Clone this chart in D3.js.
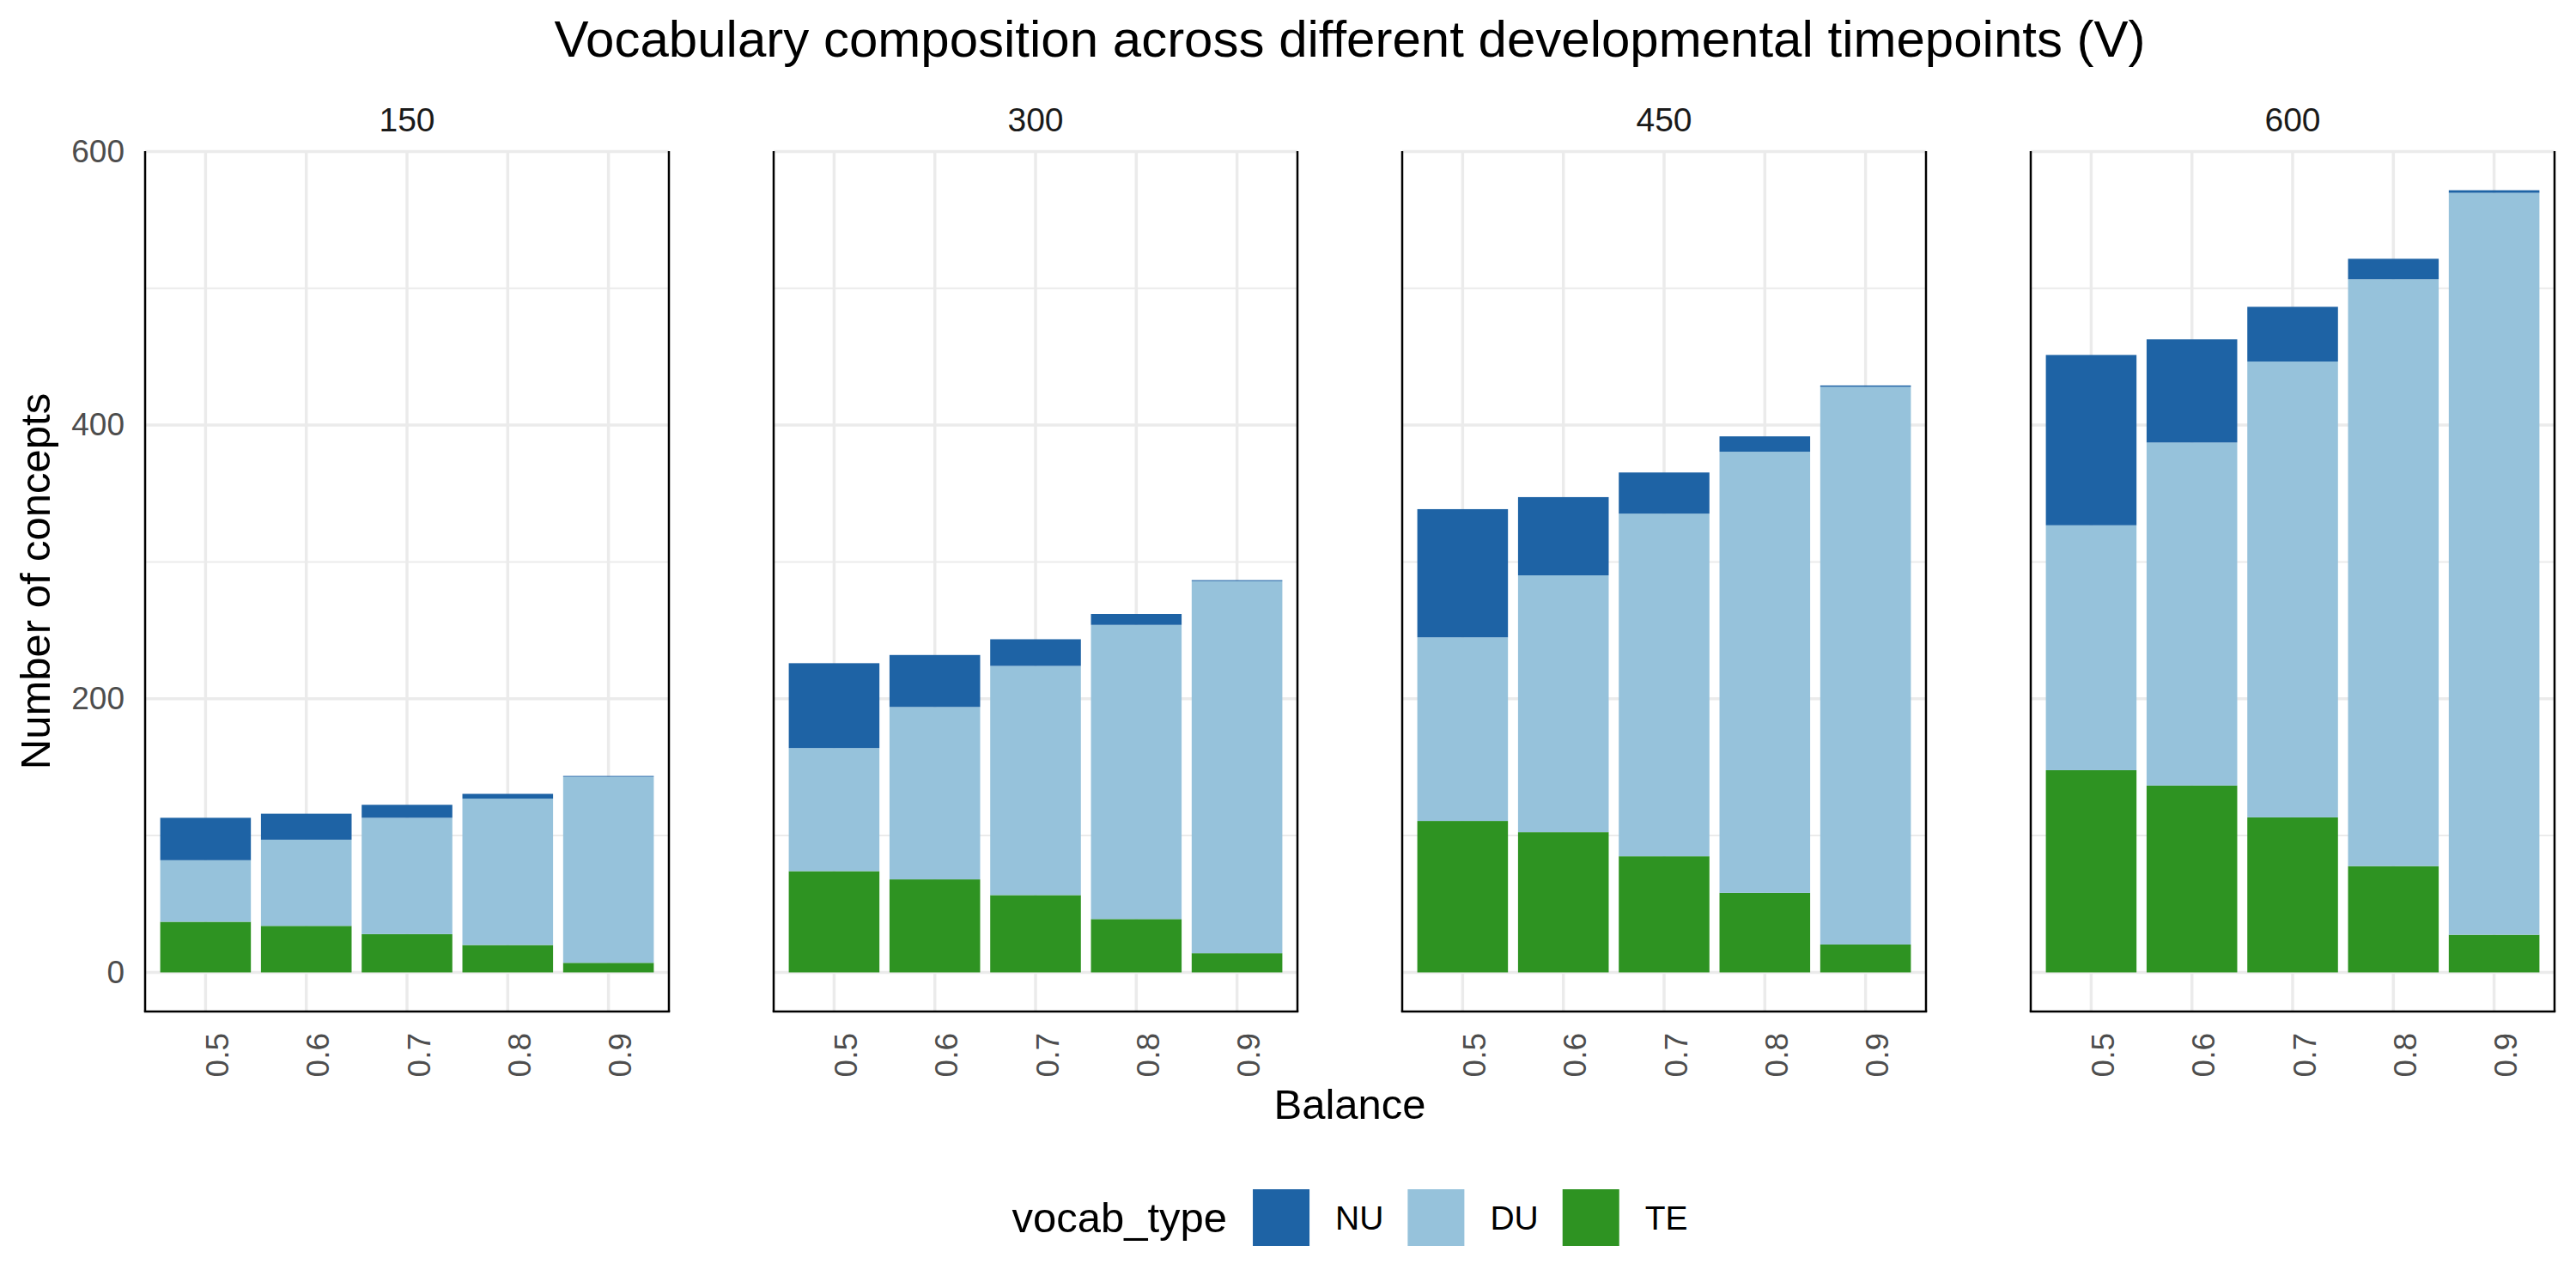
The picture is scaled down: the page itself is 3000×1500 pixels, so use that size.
<!DOCTYPE html>
<html>
<head>
<meta charset="utf-8">
<script src="https://cdn.jsdelivr.net/npm/d3@7"></script>
<style>
  body { margin: 0; background: #fff; }
  text { font-family: "Liberation Sans", Arial, Helvetica, sans-serif; }
</style>
</head>
<body>
<svg id="chart" width="3000" height="1500"></svg>
<script>
/* Data */
var timepoints = ["150", "300", "450", "600"];
var balances = ["0.5", "0.6", "0.7", "0.8", "0.9"];
var vocabTypes = ["NU", "DU", "TE"];      // legend order
var stackOrder = ["TE", "DU", "NU"];      // bottom -> top

// one row per timepoint, one value per balance
var teCounts = [
  [37, 34, 28, 20, 7],
  [74, 68, 56.5, 39, 14],
  [110.7, 102.5, 84.9, 58.1, 20.4],
  [147.8, 136.6, 113.3, 77.7, 27.5]
];
var duCounts = [
  [45, 63, 85, 107, 136],
  [90, 126, 167.5, 215, 272],
  [134.2, 187.7, 250.4, 322.5, 407.6],
  [179, 250.7, 333.2, 428.9, 542.3]
];
var nuCounts = [
  [31, 19, 9.5, 3.5, 0.6],
  [62, 38, 19.5, 8, 0.7],
  [93.7, 57.2, 30.1, 11.2, 1],
  [124.5, 75.4, 40, 15, 1.9]
];

var colors = { NU: "#1e63a5", DU: "#96c2db", TE: "#2e9322" };

/* Layout */
var W = 3000, H = 1500;
var panelLeft = 169, panelW = 610, panelStep = 732;
var panelTop = 176, panelBottom = 1178;
var plotCenter = panelLeft + (panelStep * 3 + panelW) / 2;

var svg = d3.select("#chart");

var rowsFor = function(t) {
  return balances.map(function(b, i) {
    return { balance: b, TE: teCounts[t][i], DU: duCounts[t][i], NU: nuCounts[t][i] };
  });
};

var maxTotal = d3.max(timepoints, function(t, ti) {
  return d3.max(balances, function(b, i) { return teCounts[ti][i] + duCounts[ti][i] + nuCounts[ti][i]; });
});

var x = d3.scaleBand().domain(balances).range([0, panelW]).paddingInner(0.1).paddingOuter(0.15);
var y = d3.scaleLinear().domain([-0.05 * maxTotal, 1.05 * maxTotal]).range([panelBottom, panelTop]);
var majorTicks = y.ticks(4).filter(function(v) { return v >= 0; });
var minorTicks = majorTicks.slice(1).map(function(v, i) { return (v + majorTicks[i]) / 2; });

var stack = d3.stack().keys(stackOrder);

timepoints.forEach(function(tp, ti) {
  var g = svg.append("g").attr("transform", "translate(" + (panelLeft + ti * panelStep) + ",0)");

  // grid
  g.selectAll(".minor").data(minorTicks).enter().append("line")
    .attr("x1", 0).attr("x2", panelW)
    .attr("y1", function(d) { return y(d); }).attr("y2", function(d) { return y(d); })
    .attr("stroke", "#ebebeb").attr("stroke-width", 2);
  g.selectAll(".major").data(majorTicks).enter().append("line")
    .attr("x1", 0).attr("x2", panelW)
    .attr("y1", function(d) { return y(d); }).attr("y2", function(d) { return y(d); })
    .attr("stroke", "#ebebeb").attr("stroke-width", 3.5);
  g.selectAll(".vgrid").data(balances).enter().append("line")
    .attr("x1", function(d) { return x(d) + x.bandwidth() / 2; })
    .attr("x2", function(d) { return x(d) + x.bandwidth() / 2; })
    .attr("y1", panelTop).attr("y2", panelBottom)
    .attr("stroke", "#ebebeb").attr("stroke-width", 3.5);

  // bars
  var series = stack(rowsFor(ti));
  g.selectAll(".layer").data(series).enter().append("g")
    .attr("fill", function(s) { return colors[s.key]; })
    .selectAll("rect").data(function(s) { return s; }).enter().append("rect")
    .attr("x", function(d) { return x(d.data.balance); })
    .attr("width", x.bandwidth())
    .attr("y", function(d) { return y(d[1]); })
    .attr("height", function(d) { return y(d[0]) - y(d[1]); });

  // panel lines (left, right, bottom)
  g.append("line").attr("x1", 0).attr("x2", 0).attr("y1", panelTop).attr("y2", panelBottom)
    .attr("stroke", "#000").attr("stroke-width", 2.5);
  g.append("line").attr("x1", panelW).attr("x2", panelW).attr("y1", panelTop).attr("y2", panelBottom)
    .attr("stroke", "#000").attr("stroke-width", 2.5);
  g.append("line").attr("x1", -1.25).attr("x2", panelW + 1.25).attr("y1", panelBottom).attr("y2", panelBottom)
    .attr("stroke", "#000").attr("stroke-width", 2.5);

  // x axis
  var xa = g.append("g").attr("transform", "translate(0," + panelBottom + ")")
    .call(d3.axisBottom(x).tickSize(0));
  xa.select(".domain").remove();
  xa.selectAll("text")
    .attr("transform", "rotate(-90)")
    .attr("x", -25).attr("y", 0).attr("dy", "0.72em")
    .attr("text-anchor", "end")
    .attr("font-size", 37).attr("fill", "#4d4d4d");

  // y axis on first panel only
  if (ti === 0) {
    var ya = g.append("g").call(d3.axisLeft(y).tickValues(majorTicks).tickSize(0).tickPadding(24));
    ya.select(".domain").remove();
    ya.selectAll("text").attr("font-size", 37).attr("fill", "#4d4d4d");
  }

  // strip label
  g.append("text").attr("x", panelW / 2).attr("y", 153)
    .attr("text-anchor", "middle").attr("font-size", 39).attr("fill", "#1a1a1a")
    .text(tp);
});

// titles
svg.append("text").attr("x", plotCenter).attr("y", 66)
  .attr("text-anchor", "middle").attr("font-size", 60).attr("fill", "#000")
  .text("Vocabulary composition across different developmental timepoints (V)");
svg.append("text").attr("x", plotCenter).attr("y", 1303)
  .attr("text-anchor", "middle").attr("font-size", 49).attr("fill", "#000")
  .text("Balance");
svg.append("text").attr("transform", "translate(58," + ((panelTop + panelBottom) / 2) + ") rotate(-90)")
  .attr("text-anchor", "middle").attr("font-size", 49).attr("fill", "#000")
  .text("Number of concepts");

// legend
var keySize = 66, legendY = 1418;
var leg = svg.append("g");
var legTitle = leg.append("text").attr("x", 0).attr("y", legendY).attr("dy", "0.35em")
  .attr("font-size", 49).attr("fill", "#000").text("vocab_type");
var cursor = legTitle.node().getComputedTextLength() + 30;
vocabTypes.forEach(function(k, i) {
  leg.append("rect").attr("x", cursor).attr("y", legendY - keySize / 2)
    .attr("width", keySize).attr("height", keySize).attr("fill", colors[k]);
  cursor += keySize + 30;
  var t = leg.append("text").attr("x", cursor).attr("y", legendY).attr("dy", "0.35em")
    .attr("font-size", 39).attr("fill", "#000").text(k);
  cursor += t.node().getComputedTextLength();
  if (i < vocabTypes.length - 1) cursor += 28;
});
leg.attr("transform", "translate(" + (plotCenter - cursor / 2) + ",0)");
</script>
</body>
</html>
